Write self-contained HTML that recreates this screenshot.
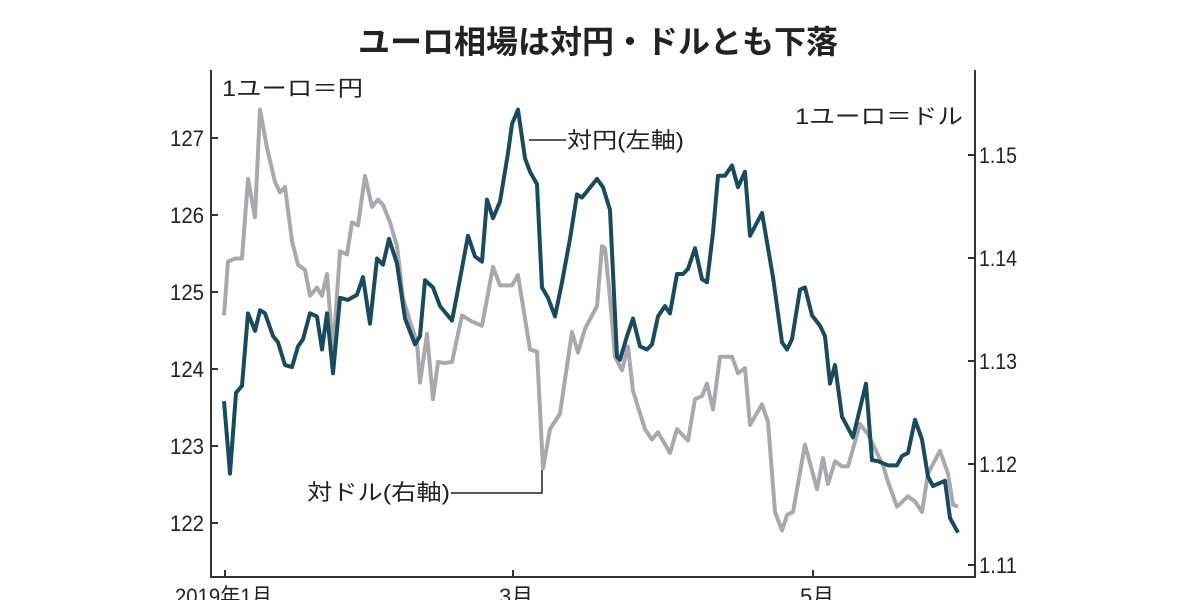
<!DOCTYPE html>
<html><head><meta charset="utf-8"><style>
body{margin:0;background:#fff}
svg text{font-family:"Liberation Sans","Noto Sans CJK JP",sans-serif;fill:#222}
</style></head><body>
<svg width="1200" height="600" viewBox="0 0 1200 600" xmlns="http://www.w3.org/2000/svg">
<text x="598" y="53" text-anchor="middle" font-size="32" font-weight="bold">ユーロ相場は対円・ドルとも下落</text>
<g stroke="#333" stroke-width="2" fill="none">
<polyline points="211,70 211,577 975,577 975,70"/>
<line x1="211" y1="138" x2="218" y2="138"/><line x1="211" y1="215" x2="218" y2="215"/><line x1="211" y1="292" x2="218" y2="292"/><line x1="211" y1="369" x2="218" y2="369"/><line x1="211" y1="446" x2="218" y2="446"/><line x1="211" y1="523" x2="218" y2="523"/>
<line x1="975" y1="155" x2="968" y2="155"/><line x1="975" y1="258" x2="968" y2="258"/><line x1="975" y1="361" x2="968" y2="361"/><line x1="975" y1="464" x2="968" y2="464"/><line x1="975" y1="565" x2="968" y2="565"/>
<line x1="225" y1="577" x2="225" y2="570"/><line x1="513" y1="577" x2="513" y2="570"/><line x1="813" y1="577" x2="813" y2="570"/>
</g>
<g font-size="22" text-anchor="end">
<text x="204" y="146" textLength="34" lengthAdjust="spacingAndGlyphs">127</text><text x="204" y="223" textLength="34" lengthAdjust="spacingAndGlyphs">126</text><text x="204" y="300" textLength="34" lengthAdjust="spacingAndGlyphs">125</text><text x="204" y="377" textLength="34" lengthAdjust="spacingAndGlyphs">124</text><text x="204" y="454" textLength="34" lengthAdjust="spacingAndGlyphs">123</text><text x="204" y="531" textLength="34" lengthAdjust="spacingAndGlyphs">122</text>
</g>
<g font-size="22">
<text x="979" y="163" textLength="38" lengthAdjust="spacingAndGlyphs">1.15</text><text x="979" y="266" textLength="38" lengthAdjust="spacingAndGlyphs">1.14</text><text x="979" y="369" textLength="38" lengthAdjust="spacingAndGlyphs">1.13</text><text x="979" y="472" textLength="38" lengthAdjust="spacingAndGlyphs">1.12</text><text x="979" y="573" textLength="38" lengthAdjust="spacingAndGlyphs">1.11</text>
<text x="175" y="604" textLength="97" lengthAdjust="spacingAndGlyphs">2019年1月</text><text x="499" y="604">3月</text><text x="800" y="604">5月</text>
<text x="222" y="96" textLength="141" lengthAdjust="spacingAndGlyphs">1ユーロ＝円</text>
<text x="795" y="124" textLength="168" lengthAdjust="spacingAndGlyphs">1ユーロ＝ドル</text>
<text x="567" y="148" textLength="117" lengthAdjust="spacingAndGlyphs">対円(左軸)</text>
<text x="307" y="500" textLength="143" lengthAdjust="spacingAndGlyphs">対ドル(右軸)</text>
</g>
<g stroke="#222" stroke-width="1.5" fill="none">
<polyline points="529,140 566,140"/>
<polyline points="451,493 542,493 542,470"/>
</g>
<g transform="matrix(1 0 0 1.034 0 -2.04)">
<polyline fill="none" stroke="#a9a9ad" stroke-width="4" vector-effect="non-scaling-stroke" stroke-linejoin="round" points="224,307 228,255 235,252 242,252 248,175 255,212 260,108 267,145 275,178 280,188 285,183 292,235 298,258 305,263 310,288 317,280 322,288 327,267 333,343 340,245 347,248 352,217 358,220 365,172 372,202 378,195 383,200 390,217 397,240 403,290 410,313 417,333 420,372 427,325 433,388 438,352 445,353 452,352 462,307 472,313 482,317 493,260 500,278 512,278 518,268 530,340 537,342 543,455 550,417 560,402 572,323 578,343 585,320 597,298 602,240 605,242 610,290 615,347 622,360 628,337 633,380 645,417 652,427 658,420 670,440 677,417 688,428 695,388 702,385 707,373 713,398 720,347 732,347 738,363 745,358 750,413 762,393 768,410 775,497 782,515 787,500 793,497 805,432 817,475 823,445 828,470 835,448 842,453 848,453 860,412 868,422 877,440 883,452 888,468 897,492 908,482 915,487 922,497 928,460 940,438 948,460 953,490 958,492"/>
<polyline fill="none" stroke="#1a4a5e" stroke-width="4" vector-effect="non-scaling-stroke" stroke-linejoin="round" points="224,390 230,460 236,382 242,375 248,305 255,322 260,302 265,305 273,327 278,333 285,355 292,357 298,337 303,330 310,305 317,308 322,340 327,305 333,363 340,290 348,292 357,287 363,270 370,315 377,252 383,258 389,233 397,257 405,310 415,335 420,327 425,273 433,280 440,298 452,312 458,282 468,230 475,250 482,255 487,195 493,213 500,197 508,150 512,122 518,108 525,155 530,168 537,180 542,280 548,290 555,308 562,275 570,233 577,190 582,193 587,187 597,175 603,183 610,205 617,347 620,350 627,327 633,310 640,337 647,340 652,335 658,308 665,298 670,305 677,267 683,267 688,262 695,242 702,272 707,275 713,227 718,172 725,172 732,162 738,183 745,168 750,230 762,208 773,270 782,333 787,340 792,330 800,282 805,280 812,307 820,317 825,327 830,373 835,355 842,405 853,425 860,397 866,373 872,447 878,448 888,452 897,452 902,443 908,440 915,408 922,427 928,463 933,472 945,467 950,503 958,517"/>
</g>
</svg>
</body></html>
